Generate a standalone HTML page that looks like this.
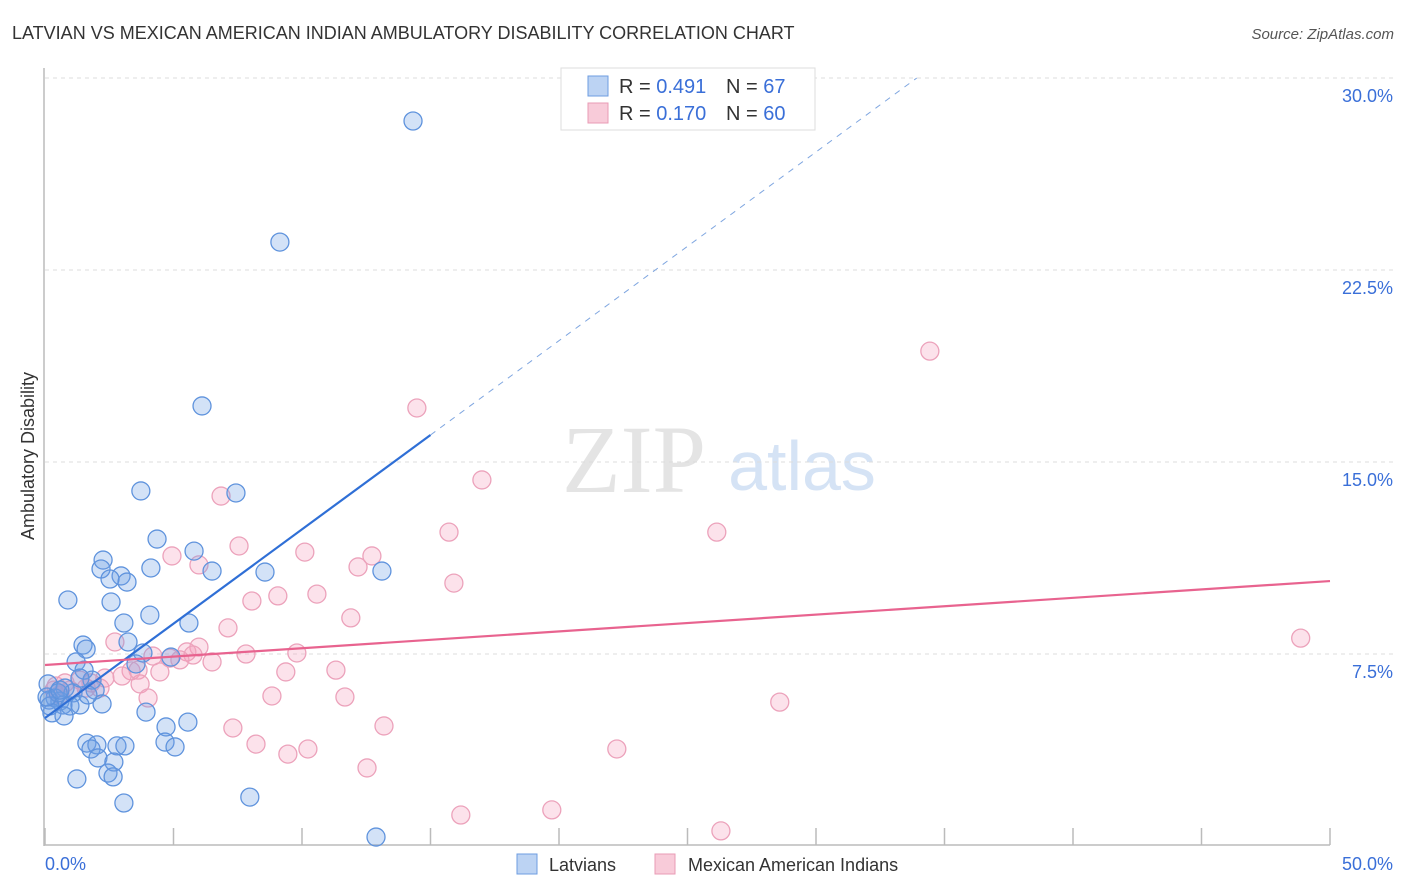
<!DOCTYPE html>
<html><head><meta charset="utf-8">
<style>
body{margin:0;background:#fff;font-family:"Liberation Sans",sans-serif;}
#wrap{position:relative;width:1406px;height:892px;overflow:hidden;}
</style></head>
<body>
<div id="wrap">
<svg id="chart" width="1406" height="892" xmlns="http://www.w3.org/2000/svg">
<text x="12" y="39" font-size="18" fill="#333">LATVIAN VS MEXICAN AMERICAN INDIAN AMBULATORY DISABILITY CORRELATION CHART</text>
<text x="1394" y="39" font-size="15" fill="#555" font-style="italic" text-anchor="end">Source: ZipAtlas.com</text>
<text x="634" y="492" font-family="Liberation Serif,serif" font-size="96" fill="#e4e4e4" text-anchor="middle">ZIP</text>
<text x="802" y="490" font-size="70" fill="#d5e3f5" text-anchor="middle">atlas</text>
<text transform="translate(34,456) rotate(-90)" font-size="18" fill="#333" text-anchor="middle">Ambulatory Disability</text>
<g id="grid"></g><g id="axes"></g><g id="pts"></g><g id="trends"></g>
<g>
<rect x="561" y="68" width="254" height="62" fill="#fff" stroke="#ddd"/>
<rect x="588" y="76" width="20" height="20" fill="#bcd3f3" stroke="#6e9de0"/>
<rect x="588" y="103" width="20" height="20" fill="#f8cbd9" stroke="#e99bb5"/>
<text x="619" y="93" font-size="20" fill="#333">R = <tspan fill="#3a6fd8">0.491</tspan></text>
<text x="726" y="93" font-size="20" fill="#333">N = <tspan fill="#3a6fd8"> 67</tspan></text>
<text x="619" y="120" font-size="20" fill="#333">R = <tspan fill="#3a6fd8">0.170</tspan></text>
<text x="726" y="120" font-size="20" fill="#333">N = <tspan fill="#3a6fd8"> 60</tspan></text>
</g>
<g>
<rect x="517" y="854" width="20" height="20" fill="#bcd3f3" stroke="#6e9de0"/>
<text x="549" y="871" font-size="18" fill="#333">Latvians</text>
<rect x="655" y="854" width="20" height="20" fill="#f8cbd9" stroke="#e99bb5"/>
<text x="688" y="871" font-size="18" fill="#333">Mexican American Indians</text>
</g>
</svg>
</div>
<script>
const yTicks=[7.5,15,22.5,30];
const yTickLabels=["7.5%","15.0%","22.5%","30.0%"];
const xTicks=[0,5,10,15,20,25,30,35,40,45,50];
const xTickLabels=["0.0%","50.0%"];
const blueX=[14.32,9.14,6.11,3.73,7.43,4.36,5.80,2.26,2.18,2.96,4.12,6.50,8.56,13.11,3.19,2.53,0.89,2.57,4.08,3.07,5.60,1.48,1.60,3.23,3.81,4.90,1.21,3.54,1.52,1.83,1.95,0.78,1.09,0.39,0.12,0.16,0.58,0.70,0.97,1.36,0.27,0.74,2.22,1.67,3.93,4.71,5.56,1.63,2.02,1.79,2.80,3.11,2.06,2.68,4.67,5.06,2.45,2.65,1.24,3.07,7.97,12.88,0.19,0.51,0.08,0.58,1.36];
const blueY=[28.32,23.59,17.19,13.87,13.79,11.99,11.52,11.17,10.82,10.55,10.86,10.74,10.70,10.74,10.31,10.43,9.61,9.53,9.02,8.71,8.71,7.85,7.69,7.97,7.54,7.38,7.19,7.11,6.87,6.48,6.09,6.17,5.98,5.78,6.33,5.70,5.66,5.51,5.47,5.51,5.20,5.08,5.55,5.90,5.23,4.65,4.84,4.02,3.95,3.79,3.91,3.91,3.44,3.28,4.06,3.87,2.85,2.70,2.62,1.68,1.91,0.35,5.47,5.98,5.82,6.09,6.56];
const pinkX=[34.43,14.47,17.00,6.85,15.72,26.14,7.55,4.94,10.11,5.99,12.18,12.72,15.91,10.58,8.05,9.06,11.90,7.12,2.72,5.99,4.20,4.86,5.52,5.76,7.82,9.80,6.50,5.25,4.47,3.35,3.62,3.00,2.33,1.79,1.36,0.78,0.43,0.58,3.70,4.01,1.60,9.37,11.32,8.83,11.67,7.31,13.19,8.21,9.45,10.23,12.53,22.25,28.59,19.72,16.18,26.30,48.86,0.35,0.97,2.14];
const pinkY=[19.33,17.11,14.30,13.67,12.26,12.26,11.72,11.33,11.48,10.98,10.90,11.33,10.27,9.84,9.57,9.77,8.91,8.52,7.97,7.77,7.42,7.34,7.58,7.46,7.50,7.54,7.19,7.27,6.80,6.84,6.87,6.64,6.56,6.37,6.48,6.37,6.25,5.90,6.33,5.78,6.17,6.80,6.87,5.86,5.82,4.61,4.69,3.98,3.59,3.79,3.05,3.79,5.62,1.41,1.21,0.59,8.12,6.09,6.09,6.17];
const blueTrend=[5.0,0.737];
const pinkTrend=[7.07,0.0656];
const NS="http://www.w3.org/2000/svg";
const X=v=>45+v/50*1285;
const Y=v=>846-v/30*768;
function mk(tag,attrs,parent){const e=document.createElementNS(NS,tag);for(const k in attrs)e.setAttribute(k,attrs[k]);document.getElementById(parent).appendChild(e);return e;}
yTicks.forEach((t,i)=>{
 const l=mk('line',{x1:45,x2:1393,y1:Y(t),y2:Y(t),stroke:'#ddd','stroke-dasharray':'4,4'},'grid');
 
 
 const tx=mk('text',{x:1393,y:Y(t)+24,'font-size':18,fill:'#3a6fd8','text-anchor':'end'},'grid');
 tx.textContent=yTickLabels[i];
 
 
});
const ya=mk('line',{x1:44,x2:44,y1:68,y2:846,stroke:'#bbb','stroke-width':1.5},'axes');


const xa=mk('line',{x1:44,x2:X(50),y1:845,y2:845,stroke:'#bbb','stroke-width':1.5},'axes');


xTicks.forEach(t=>{
 const l=mk('line',{x1:X(t),x2:X(t),y1:828,y2:845,stroke:'#bbb','stroke-width':1.5},'axes');
 
 
});
const xl0=mk('text',{x:45,y:870,'font-size':18,fill:'#3a6fd8'},'axes');
xl0.textContent=xTickLabels[0];


const xl1=mk('text',{x:1393,y:870,'font-size':18,fill:'#3a6fd8','text-anchor':'end'},'axes');
xl1.textContent=xTickLabels[1];


pinkX.forEach((v,i)=>{
 const c=mk('circle',{cx:X(v),cy:Y(pinkY[i]),r:9,fill:'rgba(244,160,190,0.3)',stroke:'#eca2bb','stroke-width':1.3},'pts');
 
 
});
blueX.forEach((v,i)=>{
 const c=mk('circle',{cx:X(v),cy:Y(blueY[i]),r:9,fill:'rgba(110,160,230,0.3)',stroke:'#5f93dd','stroke-width':1.3},'pts');
 
 
});
const bEnd=(30-blueTrend[0])/blueTrend[1];
const b1=mk('line',{x1:X(0),y1:Y(blueTrend[0]),x2:X(15),y2:Y(blueTrend[0]+blueTrend[1]*15),stroke:'#2f6fd6','stroke-width':2.2},'trends');


const b2=mk('line',{x1:X(15),y1:Y(blueTrend[0]+blueTrend[1]*15),x2:X(bEnd),y2:Y(30),stroke:'#7fa6e0','stroke-width':1,'stroke-dasharray':'6,6'},'trends');


const p1=mk('line',{x1:X(0),y1:Y(pinkTrend[0]),x2:X(50),y2:Y(pinkTrend[0]+pinkTrend[1]*50),stroke:'#e8638f','stroke-width':2.2},'trends');


</script>
</body></html>
